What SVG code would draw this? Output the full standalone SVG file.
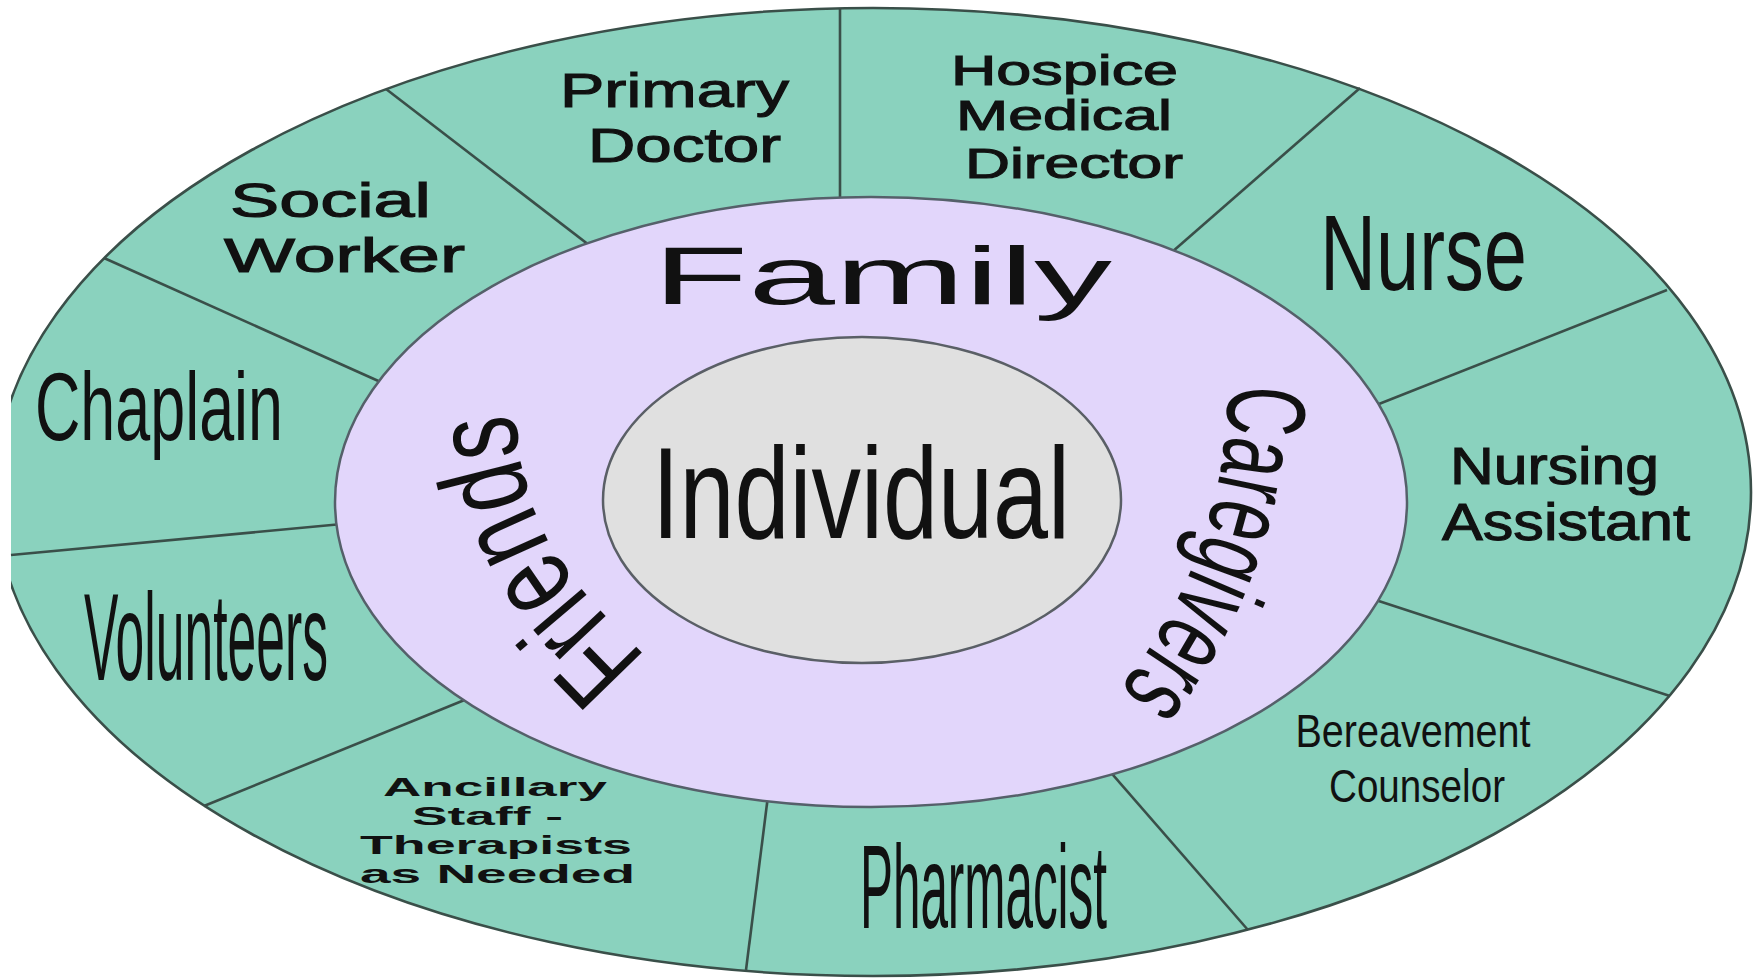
<svg xmlns="http://www.w3.org/2000/svg" width="1756" height="980" viewBox="0 0 1756 980">
  <style>
    .t { font-family: 'Liberation Sans', Arial, sans-serif; fill: #111; }
    .m { stroke: #111; stroke-width: 1.1; }
    .b { font-weight: bold; }
    .line { stroke: #3a4f49; stroke-width: 2.6; fill: none; }
    .outer { fill: #8ad2be; stroke: #3a4f49; stroke-width: 2.6; }
    .mid { fill: #e2d6fb; stroke: #55606a; stroke-width: 2.5; }
    .core { fill: #e0e0e0; stroke: #5a5f66; stroke-width: 2.5; }
  </style>
  <defs>
    <clipPath id="leftClip">
      <rect x="11" y="0" width="1745" height="980"/>
    </clipPath>
    <path id="friendsPath" d="M646 658 C608 612 523 558 516 418 L516 385"/>
    <path id="caregiversPath" d="M1228 385 C1228 480 1200 600 1100 712 L1075 735"/>
  </defs>
  <rect x="0" y="0" width="1756" height="980" fill="#ffffff"/>

  <g id="team-ring" clip-path="url(#leftClip)">
    <ellipse class="outer" cx="873" cy="492" rx="878" ry="484"/>
  </g>

  <g id="connectors">
    <line class="line" x1="840" y1="8" x2="840" y2="230"/>
    <line class="line" x1="386" y1="89" x2="615" y2="265"/>
    <line class="line" x1="104" y1="258" x2="423" y2="401"/>
    <line class="line" x1="11" y1="555" x2="385" y2="520"/>
    <line class="line" x1="204" y1="806" x2="494" y2="688"/>
    <line class="line" x1="746" y1="970" x2="770" y2="780"/>
    <line class="line" x1="1248" y1="930" x2="1093" y2="752"/>
    <line class="line" x1="1670" y1="696" x2="1342" y2="589"/>
    <line class="line" x1="1667" y1="290" x2="1346" y2="417"/>
    <line class="line" x1="1360" y1="88" x2="1156" y2="266"/>
  </g>

  <g id="family-ring">
    <ellipse class="mid" cx="871" cy="502" rx="536" ry="305"/>
    <text class="t" x="882.5" y="304" font-size="81" text-anchor="middle" textLength="459" lengthAdjust="spacingAndGlyphs">Family</text>
    <text class="t" font-size="120"><textPath href="#friendsPath" textLength="286" lengthAdjust="spacingAndGlyphs">Friends</textPath></text>
    <text class="t" font-size="112"><textPath href="#caregiversPath" textLength="330" lengthAdjust="spacingAndGlyphs">Caregivers</textPath></text>
  </g>

  <g id="individual">
    <ellipse class="core" cx="862" cy="500" rx="259" ry="163"/>
    <text class="t" x="861" y="538" font-size="130" text-anchor="middle" textLength="418" lengthAdjust="spacingAndGlyphs">Individual</text>
  </g>

  <g id="primary-doctor">
    <text class="t m" x="674.5" y="107" font-size="49" text-anchor="middle" textLength="229" lengthAdjust="spacingAndGlyphs">Primary</text>
    <text class="t m" x="684.5" y="162" font-size="49" text-anchor="middle" textLength="193" lengthAdjust="spacingAndGlyphs">Doctor</text>
  </g>
  <g id="hospice-medical-director">
    <text class="t m" x="1064.5" y="85" font-size="42" text-anchor="middle" textLength="227" lengthAdjust="spacingAndGlyphs">Hospice</text>
    <text class="t m" x="1064" y="130" font-size="42" text-anchor="middle" textLength="216" lengthAdjust="spacingAndGlyphs">Medical</text>
    <text class="t m" x="1074" y="178" font-size="42" text-anchor="middle" textLength="218" lengthAdjust="spacingAndGlyphs">Director</text>
  </g>
  <g id="nurse">
    <text class="t" x="1423.5" y="290" font-size="108" text-anchor="middle" textLength="207" lengthAdjust="spacingAndGlyphs">Nurse</text>
  </g>
  <g id="nursing-assistant">
    <text class="t m" x="1554.5" y="484" font-size="51" text-anchor="middle" textLength="209" lengthAdjust="spacingAndGlyphs">Nursing</text>
    <text class="t m" x="1566" y="540" font-size="51" text-anchor="middle" textLength="248" lengthAdjust="spacingAndGlyphs">Assistant</text>
  </g>
  <g id="bereavement-counselor">
    <text class="t" x="1413" y="747" font-size="46" text-anchor="middle" textLength="235" lengthAdjust="spacingAndGlyphs">Bereavement</text>
    <text class="t" x="1417" y="802" font-size="46" text-anchor="middle" textLength="176" lengthAdjust="spacingAndGlyphs">Counselor</text>
  </g>
  <g id="pharmacist">
    <text class="t" x="983.5" y="928" font-size="118" text-anchor="middle" textLength="247" lengthAdjust="spacingAndGlyphs">Pharmacist</text>
  </g>
  <g id="ancillary-staff">
    <text class="t b" x="495" y="796" font-size="25" text-anchor="middle" textLength="224" lengthAdjust="spacingAndGlyphs">Ancillary</text>
    <text class="t b" x="487.5" y="825" font-size="25" text-anchor="middle" textLength="151" lengthAdjust="spacingAndGlyphs">Staff -</text>
    <text class="t b" x="496" y="854" font-size="25" text-anchor="middle" textLength="272" lengthAdjust="spacingAndGlyphs">Therapists</text>
    <text class="t b" x="497.5" y="883" font-size="25" text-anchor="middle" textLength="275" lengthAdjust="spacingAndGlyphs">as Needed</text>
  </g>
  <g id="volunteers">
    <text class="t" x="206" y="680" font-size="124" text-anchor="middle" textLength="244" lengthAdjust="spacingAndGlyphs">Volunteers</text>
  </g>
  <g id="chaplain">
    <text class="t" x="159" y="440" font-size="97" text-anchor="middle" textLength="248" lengthAdjust="spacingAndGlyphs">Chaplain</text>
  </g>
  <g id="social-worker">
    <text class="t m" x="330.5" y="217" font-size="48" text-anchor="middle" textLength="201" lengthAdjust="spacingAndGlyphs">Social</text>
    <text class="t m" x="344.5" y="272" font-size="48" text-anchor="middle" textLength="241" lengthAdjust="spacingAndGlyphs">Worker</text>
  </g>
</svg>
